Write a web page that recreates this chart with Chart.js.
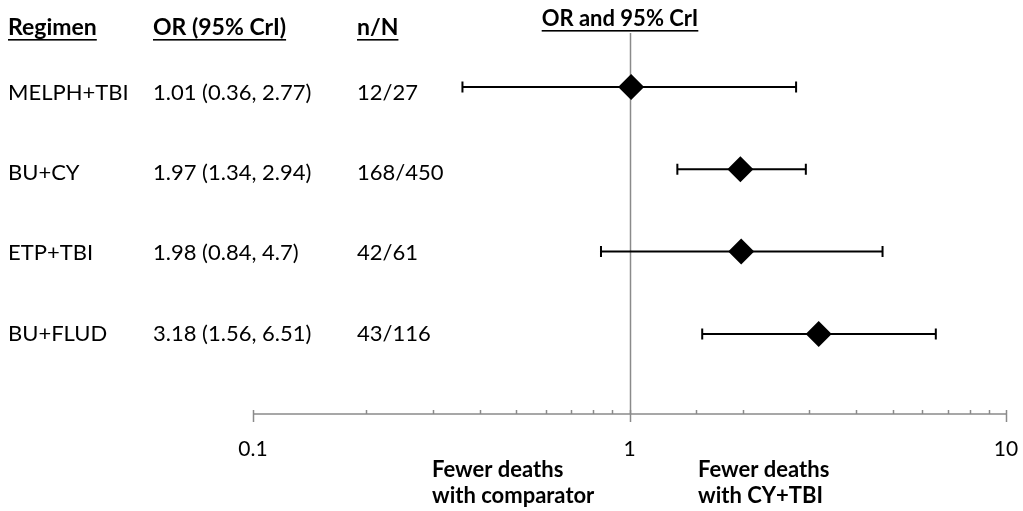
<!DOCTYPE html>
<html>
<head>
<meta charset="utf-8">
<script src="https://cdn.jsdelivr.net/npm/chart.js@4"></script>
<style>
  html, body { margin: 0; padding: 0; background: #fff; }
  #wrap { width: 1023px; height: 511px; position: relative; }
</style>
</head>
<body>
<div id="wrap"><canvas id="forest"></canvas></div>
<script>
// data
const regimens = ['MELPH+TBI', 'BU+CY', 'ETP+TBI', 'BU+FLUD'];
const orValues = [1.01, 1.97, 1.98, 3.18];
const lowerCrI = [0.36, 1.34, 0.84, 1.56];
const upperCrI = [2.77, 2.94, 4.7, 6.51];
const orLabels = ['1.01 (0.36, 2.77)', '1.97 (1.34, 2.94)', '1.98 (0.84, 4.7)', '3.18 (1.56, 6.51)'];
const nOverN = ['12/27', '168/450', '42/61', '43/116'];
const xTickLabels = [0.1, 1, 10];

const FONT = 'Lato';
const AXIS_GREY = '#8a8a8a';

function underlined(ctx, text, x, y, align) {
    ctx.textAlign = align;
    ctx.fillText(text, x, y);
    const w = ctx.measureText(text).width;
    const x0 = align === 'center' ? x - w / 2 : x;
    ctx.fillRect(x0, y + 4, w, 1.6);
}

const forestPlugin = {
    id: 'forest',
    beforeDatasetsDraw(chart) {
        const { ctx, chartArea, scales: { x, y } } = chart;
        ctx.save();

        // reference line at OR = 1
        ctx.strokeStyle = AXIS_GREY;
        ctx.lineWidth = 1.5;
        const x1 = Math.round(x.getPixelForValue(1)) + 0.5;
        ctx.beginPath();
        ctx.moveTo(x1, chartArea.top);
        ctx.lineTo(x1, chartArea.bottom);
        ctx.stroke();

        // axis line and tick marks
        const ay = chartArea.bottom;
        ctx.beginPath();
        ctx.moveTo(chartArea.left, ay);
        ctx.lineTo(chartArea.right, ay);
        x.ticks.forEach(t => {
            const px = Math.round(x.getPixelForValue(t.value)) + 0.5;
            const major = Math.abs(Math.log10(t.value) - Math.round(Math.log10(t.value))) < 1e-9;
            ctx.moveTo(px, ay - 4);
            ctx.lineTo(px, major ? ay + 8 : ay);
        });
        ctx.stroke();

        // credible interval bars
        ctx.strokeStyle = '#000';
        ctx.lineWidth = 2;
        regimens.forEach((r, i) => {
            const py = y.getPixelForValue(i);
            const lo = x.getPixelForValue(lowerCrI[i]);
            const hi = x.getPixelForValue(upperCrI[i]);
            ctx.beginPath();
            ctx.moveTo(lo, py);
            ctx.lineTo(hi, py);
            ctx.moveTo(lo, py - 5.5);
            ctx.lineTo(lo, py + 5.5);
            ctx.moveTo(hi, py - 5.5);
            ctx.lineTo(hi, py + 5.5);
            ctx.stroke();
        });

        // text columns
        ctx.fillStyle = '#000';
        ctx.textBaseline = 'alphabetic';
        ctx.font = `bold 23px ${FONT}`;
        underlined(ctx, 'Regimen', 8, 35, 'left');
        underlined(ctx, 'OR (95% CrI)', 153, 35, 'left');
        underlined(ctx, 'n/N', 357, 35, 'left');
        ctx.font = `bold 22px ${FONT}`;
        underlined(ctx, 'OR and 95% CrI', 620, 26, 'center');

        ctx.font = `22px ${FONT}`;
        ctx.textBaseline = 'middle';
        ctx.textAlign = 'left';
        regimens.forEach((r, i) => {
            // text rows sit a little lower than the bars at the top
            const py = y.getPixelForValue(i) + 5.5 - 2 * i;
            ctx.fillText(r, 8, py);
            ctx.fillText(orLabels[i], 153, py);
            ctx.fillText(nOverN[i], 357, py);
        });

        ctx.font = `bold 22px ${FONT}`;
        ctx.fillText('Fewer deaths', 432, 470);
        ctx.fillText('with comparator', 432, 496);
        ctx.fillText('Fewer deaths', 698, 470);
        ctx.fillText('with CY+TBI', 698, 496);
        ctx.restore();
    }
};

new Chart(document.getElementById('forest'), {
    type: 'scatter',
    data: {
        datasets: [{
            data: orValues.map((v, i) => ({ x: v, y: i })),
            pointStyle: 'rectRot',
            pointRadius: 13,
            pointHoverRadius: 13,
            backgroundColor: '#000',
            borderColor: '#000',
            borderWidth: 0
        }]
    },
    options: {
        responsive: true,
        maintainAspectRatio: false,
        animation: false,
        events: [],
        layout: { padding: { left: 253, right: 17, top: 33, bottom: 0 } },
        plugins: { legend: { display: false }, tooltip: { enabled: false } },
        scales: {
            x: {
                type: 'logarithmic',
                min: 0.1,
                max: 10,
                afterFit: s => { s.height = 97; s.paddingLeft = 0; s.paddingRight = 0; },
                grid: { display: false, drawTicks: false },
                border: { display: false },
                ticks: {
                    autoSkip: false,
                    maxRotation: 0,
                    padding: 23,
                    color: '#000',
                    font: { family: FONT, size: 21 },
                    callback: v => xTickLabels.includes(v) ? String(v) : ''
                }
            },
            y: {
                display: false,
                reverse: true,
                min: -0.656,
                max: 3.973
            }
        }
    },
    plugins: [forestPlugin]
});
</script>
</body>
</html>
